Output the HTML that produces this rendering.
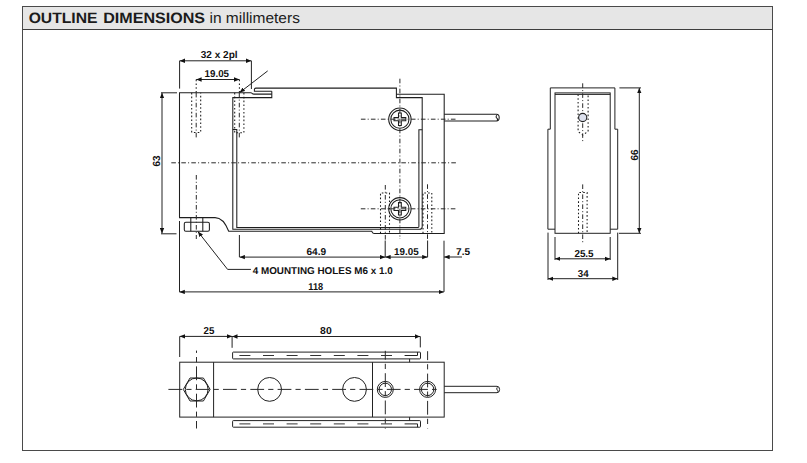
<!DOCTYPE html>
<html><head><meta charset="utf-8">
<style>
html,body{margin:0;padding:0;background:#fff;}
body{width:807px;height:463px;position:relative;overflow:hidden;font-family:"Liberation Sans",sans-serif;}
svg{position:absolute;left:0;top:0;}
</style></head><body>
<svg width="807" height="463" viewBox="0 0 807 463">
<defs>
<marker id="ar" viewBox="0 0 5.4 5" refX="5.4" refY="2.5" markerWidth="5.4" markerHeight="5" orient="auto-start-reverse" markerUnits="userSpaceOnUse">
<path d="M0,0.3 L5.4,2.5 L0,4.7 Z" fill="#111"/></marker>
</defs>
<!-- FRAME -->
<rect x="22.5" y="6.5" width="750" height="444" fill="#fff" stroke="#4a4a4a" stroke-width="1"/>
<rect x="23" y="7" width="749" height="22" fill="#e6e6e6"/>
<path d="M22.5,29.5 H772.5" stroke="#3e3e3e" stroke-width="1"/>
<g font-family="Liberation Sans, sans-serif" font-size="15" fill="#1b1b1b" text-rendering="geometricPrecision">
<text x="28.65" y="22.6" font-weight="bold" textLength="68.9" lengthAdjust="spacingAndGlyphs">OUTLINE</text>
<text x="103.2" y="22.6" font-weight="bold" textLength="101.9" lengthAdjust="spacingAndGlyphs">DIMENSIONS</text>
<text x="209.5" y="22.6" textLength="90.4" lengthAdjust="spacingAndGlyphs">in millimeters</text>
</g>
<g fill="none" stroke="#1e1e1e" stroke-width="1.05">
<!-- SIDE VIEW -->
<path d="M251.4,92.8 H179.5 V217.6 H215.1 C221.5,217.6 225.5,223 228.7,231.3 H371.8 Q372.4,233.4 374,233.4 H444.2 V94.2 H396.4"/>
<path d="M251.4,92.8 Q252.3,94.1 253.8,94.1 H271.8"/>
<path d="M271.8,91.2 V97.6 H232.8 V229.3 H419.6 Q422.2,229.3 422.2,226.7 V97.6 H396.4 V88.1 H256 Q254.4,88.1 254.4,89.6 V91.2 H271.8"/>
<path d="M232.8,129.5 H236.8 V227.4 H418.1 Q418.9,227.4 418.9,226.6 V129.8 H422.2"/>
<!-- cable -->
<path d="M444.2,114.2 H496.5 Q499.2,114.2 499.2,117.6 Q499.2,121 496.5,121 H444.2 M496.8,115.2 Q495.3,117.2 497.1,118.4 Q498.1,119.4 496.9,120.5"/>
<!-- nut -->
<rect x="184.3" y="222.3" width="25.1" height="9" rx="1.5"/>
<path d="M190.8,217.6 V231.3 M202.8,217.6 V231.3"/>
<!-- screws -->
<circle cx="399.9" cy="119.2" r="11.2"/><circle cx="399.9" cy="119.2" r="9.1"/>
<path d="M398.5,113 H401.3 V117.6 H405.8 V120.8 H401.3 V125.4 H398.5 V120.8 H394 V117.6 H398.5 Z"/>
<circle cx="399.9" cy="208.8" r="11.2"/><circle cx="399.9" cy="208.8" r="9.1"/>
<path d="M398.5,202.6 H401.3 V207.2 H405.8 V210.4 H401.3 V215 H398.5 V210.4 H394 V207.2 H398.5 Z"/>
</g>
<!-- dotted holes -->
<g fill="none" stroke="#1a1a1a" stroke-width="1.05" stroke-dasharray="1.6,2.2">
<path d="M191.7,92.8 V132.4 H200.7 V92.8"/>
<path d="M234.7,92.8 V132.8 H243.9 V92.8"/>
<path d="M380.5,233.4 V192.9 H389.5 V233.4"/>
<path d="M423,233.4 V192.9 H431.8 V233.4"/>
<path d="M578.1,94.4 V131.5 L582.7,135 L588.1,131.5 V94.4"/>
<path d="M578.5,233.3 V192.4 H587.1 V233.3"/>
<path d="M196.2,79.6 V92.8 M239.4,79.6 V92.8"/>
</g>
<!-- center lines side/end views -->
<g fill="none" stroke="#2a2a2a" stroke-width="1" stroke-dasharray="4.6,2.2,1,2.2">
<path d="M169.7,162.8 H457.2" stroke-dashoffset="8.4"/>
<path d="M360.9,119.2 H456.2"/>
<path d="M360.8,208.8 H456.2"/>
<path d="M399.9,78.7 V239"/>
<path d="M196.3,175 V239"/>
<path d="M196.2,92.8 V138"/>
<path d="M239.3,92.8 V137.6"/>
<path d="M385.3,185 V240"/>
<path d="M427.5,184.3 V240"/>
<path d="M582.7,83.3 V141.7 M582.7,184.4 V244"/>
</g>
<!-- center lines top view -->
<g fill="none" stroke="#2a2a2a" stroke-width="1" stroke-dasharray="13.8,4.1,5.2,4.2">
<path d="M168.2,389.4 H436.7" stroke-dashoffset="27.1"/>
<path d="M196.5,350.6 V428.5" stroke-dashoffset="11.5"/>
<path d="M385.3,350.8 V428.6" stroke-dashoffset="4.9"/>
<path d="M427.6,351.2 V428.6" stroke-dashoffset="4.9"/>
</g>
<!-- dimensions -->
<g fill="none" stroke="#222" stroke-width="1">
<path d="M162,92.8 V233.4" marker-start="url(#ar)" marker-end="url(#ar)"/>
<path d="M161,92.8 H177 M161,233.8 H176.5"/>
<path d="M179.6,60.8 H251.4" marker-start="url(#ar)" marker-end="url(#ar)"/>
<path d="M179.6,60.8 V88.6 M251.4,60.8 V89"/>
<path d="M196.2,79.5 H239.4" marker-start="url(#ar)" marker-end="url(#ar)"/>
<path d="M267.7,70.9 L239.6,92.6" marker-end="url(#ar)"/>
<path d="M239.5,257.1 H385.2" marker-start="url(#ar)" marker-end="url(#ar)"/>
<path d="M239.4,235 V257.1 M385.2,240.5 V257.1 M427.6,240.5 V257.1"/>
<path d="M385.2,257.1 H427.6" marker-start="url(#ar)" marker-end="url(#ar)"/>
<path d="M444,240.7 V291.9"/>
<path d="M462,257 H444.2" marker-end="url(#ar)"/>
<path d="M179.4,291.9 H443.9" marker-start="url(#ar)" marker-end="url(#ar)"/>
<path d="M179.5,221 V291.9"/>
<path d="M250.9,269.4 H227.6 L197.9,231.6" marker-end="url(#ar)"/>
<!-- end view -->
<path d="M547.9,229.2 V129.2 H550.3 V87.9 H614.9 V129.2 H617.7 V229.2 H610.2 M547.9,229.2 H555"/>
<rect x="555" y="92.9" width="55.2" height="140.4"/>
<path d="M555,94.4 H610.2"/>
<path d="M639.3,87.9 V233.3" marker-start="url(#ar)" marker-end="url(#ar)"/>
<path d="M619.4,87.9 H641 M618.9,233.3 H641"/>
<path d="M555,237 V260 M610.2,237 V260"/>
<path d="M555,258.8 H610.2" marker-start="url(#ar)" marker-end="url(#ar)"/>
<path d="M548,232.6 V280 M617.7,232.6 V280"/>
<path d="M548,278.7 H617.7" marker-start="url(#ar)" marker-end="url(#ar)"/>
<!-- top view -->
<rect x="179.7" y="362.2" width="264.5" height="54.9"/>
<path d="M213.6,362.2 V417.1 M372.5,362.2 V417.1"/>
<polygon points="183.3,389.4 190,378 203.4,378 210.1,389.4 203.4,401 190,401"/>
<circle cx="196.7" cy="389.4" r="11.4"/>
<circle cx="269.6" cy="389.4" r="11.9"/>
<circle cx="354.5" cy="389.4" r="11.9"/>
<circle cx="385.3" cy="389.4" r="8"/><circle cx="385.3" cy="389.4" r="6.2"/>
<circle cx="427.6" cy="389.4" r="8"/><circle cx="427.6" cy="389.4" r="6.2"/>
<rect x="232.6" y="352.1" width="187.9" height="6.8" rx="0.7"/>
<rect x="232.6" y="420.6" width="187.9" height="6.6" rx="0.7"/>
<path d="M409.6,358.9 V362.2 M409.6,417.1 V420.6"/>
<path d="M404.6,355.5 H417.5 V352.1 M404.6,423.9 H417.5 V427.2"/>
<path d="M444.2,386.3 H497 Q499.6,386.3 499.6,389.5 Q499.6,392.7 497,392.7 H444.2 M497.3,387.3 Q495.8,389.2 497.6,390.4 Q498.6,391.3 497.4,392.4"/>
<path d="M179.7,336.4 H232.1" marker-start="url(#ar)" marker-end="url(#ar)"/>
<path d="M179.7,336.4 V357 M232.1,336.4 V347.8"/>
<path d="M232.1,336.5 H420.3" marker-start="url(#ar)" marker-end="url(#ar)"/>
<path d="M420.3,336.5 V347.4"/>
</g>
<g fill="none" stroke="#333" stroke-width="1" stroke-dasharray="11,12.6">
<path d="M239.4,355.5 H404.6 M239.4,423.9 H404.6"/>
</g>
<circle cx="582.7" cy="117.5" r="4.1" fill="#dde1ee" stroke="#222" stroke-width="1.1"/>
<!-- text -->
<g font-family="Liberation Sans, sans-serif" font-weight="bold" font-size="10" fill="#111" text-rendering="geometricPrecision">
<text x="200.8" y="58.1" textLength="36.8" lengthAdjust="spacingAndGlyphs">32 x 2pl</text>
<text x="204.6" y="77.1" textLength="24.4" lengthAdjust="spacingAndGlyphs">19.05</text>
<text x="306.4" y="254.9" textLength="19.7" lengthAdjust="spacingAndGlyphs">64.9</text>
<text x="394.1" y="254.9" textLength="24.6" lengthAdjust="spacingAndGlyphs">19.05</text>
<text x="456.1" y="254.8" textLength="13.9" lengthAdjust="spacingAndGlyphs">7.5</text>
<text x="308.3" y="289.7" textLength="14.8" lengthAdjust="spacingAndGlyphs">118</text>
<text x="252.7" y="273.5" font-size="9.9" textLength="140.0" lengthAdjust="spacingAndGlyphs">4 MOUNTING HOLES M6 x 1.0</text>
<text x="574.4" y="256.9" textLength="19.2" lengthAdjust="spacingAndGlyphs">25.5</text>
<text x="577.8" y="276.8" textLength="10.8" lengthAdjust="spacingAndGlyphs">34</text>
<text x="203.5" y="333.7" textLength="10.8" lengthAdjust="spacingAndGlyphs">25</text>
<text x="320.1" y="334.0" textLength="11.6" lengthAdjust="spacingAndGlyphs">80</text>
<text transform="translate(160.1,166.56) rotate(-90)" font-size="10.3" textLength="11.0" lengthAdjust="spacingAndGlyphs">63</text>
<text transform="translate(637.5,160.56) rotate(-90)" font-size="10.3" textLength="11.0" lengthAdjust="spacingAndGlyphs">66</text>
</g>
</svg>
</body></html>
